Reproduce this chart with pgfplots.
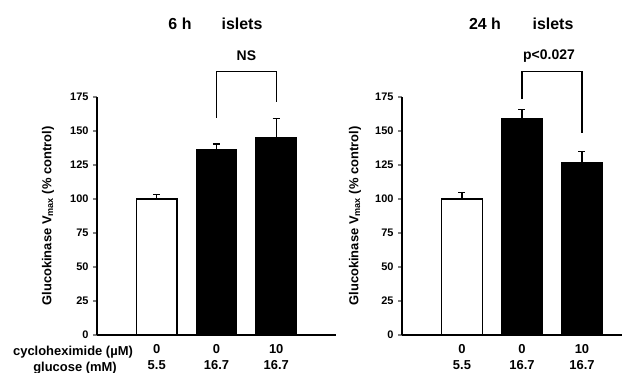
\documentclass[border=0pt]{standalone}
\usepackage{pgfplots}
\pgfplotsset{compat=1.18}
\usepackage{fontspec}
\setmainfont{Liberation Sans}
\begin{document}
\begin{tikzpicture}[font=\bfseries]
\pgfplotsset{
  panel/.style={
    scale only axis,
    height=238bp,
    ymin=0, ymax=175,
    ytick={0,25,...,175},
    axis x line=bottom, axis y line=left,
    axis line style={-, line width=1.2bp},
    x axis line style={-},
    y axis line style={-},
    tick align=outside,
    major tick length=4bp,
    ytick style={line width=1.2bp},
    xtick={1,2,3},
    xtick style={draw=none},
    /pgf/number format/assume math mode=true,
    yticklabel style={font=\fontsize{11}{12}\selectfont\bfseries, xshift=-1bp},
    xticklabel style={align=center, font=\fontsize{13}{16}\selectfont\bfseries, yshift=-2bp},
    ylabel={Glucokinase V\textsubscript{max} (\% control)},
    ylabel style={font=\fontsize{13}{14}\selectfont\bfseries, rotate=0},
    ybar, bar width=0.68, bar shift=0pt,
    clip=false,
    error bars/y dir=plus, error bars/y explicit,
    error bars/error bar style={line width=1.3bp},
    error bars/error mark options={rotate=90, mark size=3.5bp, line width=1.3bp},
  }
}
% left panel
\begin{axis}[panel, at={(97bp,-335bp)}, anchor=south west, width=239bp,
  xmin=0, xmax=4,
  xticklabels={0\\5.5, 0\\16.7, 10\\16.7},
  ylabel style={at={(axis description cs:-0.205,0.5)}, anchor=center}]
\addplot[draw=black, line width=1.2bp, fill=white] coordinates {(1,100) +- (0,3.5)};
\addplot[draw=black, line width=1.2bp, fill=black] coordinates {(2,136.5) +- (0,4) (3,145) +- (0,14)};
\draw[line width=1.2bp] (axis cs:2,159.6) |- (axis cs:3,194) -- (axis cs:3,171);
\node[font=\fontsize{14}{15}\selectfont\bfseries] at (axis cs:2.5,205) {NS};
\end{axis}
% right panel
\begin{axis}[panel, at={(402bp,-335bp)}, anchor=south west, width=220bp,
  xmin=0, xmax=3.667,
  xticklabels={0\\5.5, 0\\16.7, 10\\16.7},
  ylabel style={at={(axis description cs:-0.214,0.5)}, anchor=center}]
\addplot[draw=black, line width=1.2bp, fill=white] coordinates {(1,100) +- (0,4.6)};
\addplot[draw=black, line width=1.2bp, fill=black] coordinates {(2,159) +- (0,7) (3,126.7) +- (0,8)};
\draw[line width=1.2bp] (axis cs:2,173.5) |- (axis cs:3,194) -- (axis cs:3,148.5);
\node[font=\fontsize{14}{15}\selectfont\bfseries] at (axis cs:2.45,205) {p<0.027};
\end{axis}
% titles
\node[font=\fontsize{16}{17}\selectfont\bfseries] at (180bp,-24bp) {6 h};
\node[font=\fontsize{16}{17}\selectfont\bfseries] at (242bp,-24bp) {islets};
\node[font=\fontsize{16}{17}\selectfont\bfseries] at (485bp,-24bp) {24 h};
\node[font=\fontsize{16}{17}\selectfont\bfseries] at (553bp,-24bp) {islets};
% row labels
\node[font=\fontsize{13}{14}\selectfont\bfseries] at (73bp,-352bp) {cycloheximide (µM)};
\node[font=\fontsize{13}{14}\selectfont\bfseries] at (75bp,-368bp) {glucose (mM)};
\pgfresetboundingbox
\useasboundingbox (0,0) rectangle (628bp,-373bp);
\end{tikzpicture}
\end{document}
